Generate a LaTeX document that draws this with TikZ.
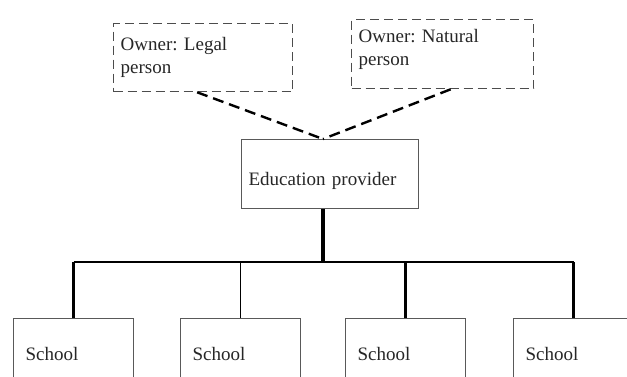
\documentclass[tikz,border=0pt]{standalone}
\usepackage{fontspec}
\setmainfont{Liberation Serif}
\frenchspacing

\begin{document}
\begin{tikzpicture}[x=1pt, y=-1pt,
  every node/.style={anchor=north west, inner ysep=0pt, inner xsep=7pt, align=left,
                     text=black!85, font=\fontsize{19}{23}\selectfont},
  owner/.style={draw=black!70, line width=1.3pt, dash pattern=on 9pt off 5pt},
  plain/.style={draw=black!65, line width=1.2pt},
  link/.style={line width=2.4pt, dash pattern=on 11pt off 6pt}]
  \useasboundingbox (0,0) rectangle (627,376);
  \clip (0,0) rectangle (627,376);

  \node[owner, text width=165pt, minimum height=68pt] (O1) at (113,23) {Owner: Legal\\person};
  \node[owner, text width=168pt, minimum height=69pt, text depth=36pt] (O2) at (351,19) {Owner: Natural\\person};
  \node[plain, text width=163pt, minimum height=69pt, text height=23pt, text depth=0pt] (E) at (241,139) {Education provider};

  \foreach \i/\x in {1/13,2/180,3/345,4/513} {
    \node[plain, inner xsep=12pt, text width=96pt, minimum height=71pt] (S\i) at (\x,318) {School};
  }

  \coordinate (J) at (323,262);

  % owners
  \draw[link] ([xshift=-6pt]O1.south) -- (E.north -| J);
  \draw[link] ([xshift=8pt]O2.south) -- (E.north -| J);

  % schools
  \draw[line width=3.4pt] (E.south -| J) -- (J);
  \draw[line width=2pt] (S1.north |- J) -- (S4.north |- J);
  \foreach \i/\w in {1/3.2,2/1.6,3/3.2,4/3.2} {
    \draw[line width=\w pt] (S\i.north) -- (S\i.north |- J);
  }
\end{tikzpicture}
\end{document}
